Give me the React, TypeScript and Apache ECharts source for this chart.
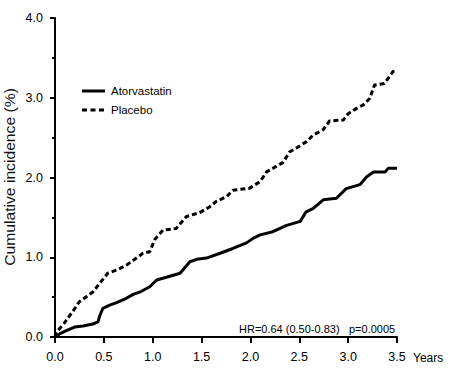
import React, { useEffect, useRef } from "react";
import * as echarts from "echarts";

const xTicks = [0, 0.5, 1, 1.5, 2, 2.5, 3, 3.5];
const yTicks = [0, 1, 2, 3, 4];

const atorvaTime = [0, 0.013, 0.047, 0.116, 0.2, 0.286, 0.388, 0.44, 0.457, 0.49, 0.56, 0.63, 0.73, 0.8, 0.88, 0.97, 1.04, 1.14, 1.28, 1.38, 1.45, 1.55, 1.69, 1.82, 1.96, 2.03, 2.1, 2.23, 2.37, 2.51, 2.57, 2.64, 2.745, 2.88, 2.98, 3.12, 3.19, 3.26, 3.38, 3.41, 3.5];
const atorvaValue = [0, 0.013, 0.038, 0.079, 0.125, 0.138, 0.163, 0.19, 0.263, 0.36, 0.4, 0.43, 0.485, 0.535, 0.57, 0.63, 0.715, 0.75, 0.8, 0.944, 0.974, 0.99, 1.05, 1.11, 1.18, 1.24, 1.28, 1.32, 1.4, 1.45, 1.57, 1.61, 1.72, 1.74, 1.86, 1.91, 2.01, 2.07, 2.07, 2.115, 2.115];

const placeboTime = [0, 0.013, 0.08, 0.18, 0.25, 0.32, 0.39, 0.457, 0.54, 0.63, 0.73, 0.83, 0.9, 0.97, 1.02, 1.105, 1.24, 1.345, 1.48, 1.58, 1.65, 1.755, 1.82, 1.99, 2.1, 2.165, 2.23, 2.335, 2.4, 2.47, 2.575, 2.64, 2.745, 2.81, 2.95, 3.0, 3.09, 3.155, 3.22, 3.27, 3.37, 3.42, 3.46, 3.5];
const placeboValue = [0, 0.06, 0.15, 0.317, 0.443, 0.505, 0.568, 0.673, 0.8, 0.84, 0.9, 0.987, 1.05, 1.07, 1.22, 1.34, 1.36, 1.51, 1.56, 1.63, 1.7, 1.76, 1.84, 1.865, 1.95, 2.07, 2.115, 2.19, 2.32, 2.37, 2.45, 2.53, 2.6, 2.71, 2.72, 2.8, 2.87, 2.91, 2.99, 3.16, 3.18, 3.26, 3.33, 3.33];

const seriesNames = ["Atorvastatin", "Placebo"];
const yAxisTitle = "Cumulative incidence (%)";
const xAxisTitle = "Years";
const annotationHR = "HR=0.64 (0.50-0.83)";
const annotationP = "p=0.0005";

const FONT = "'Liberation Sans', Arial, sans-serif";

export default function App() {
  const ref = useRef<HTMLDivElement>(null);
  useEffect(() => {
    if (!ref.current) return;
    const chart = echarts.init(ref.current, undefined, { renderer: "svg" });
    const zip = (t: number[], v: number[]) => t.map((x, i) => [x, v[i]]);
    chart.setOption({
      animation: false,
      backgroundColor: "#fff",
      grid: { left: 55, top: 18, width: 342, height: 319, containLabel: false },
      xAxis: {
        type: "value",
        min: 0,
        max: 3.5,
        interval: 0.5,
        offset: 3,
        axisLine: { show: true, lineStyle: { color: "#000", width: 2 } },
        axisTick: { show: true, length: 6, lineStyle: { color: "#000", width: 2 } },
        axisLabel: {
          margin: 10,
          color: "#000",
          fontSize: 12.5,
          fontFamily: FONT,
          formatter: (v: number) => v.toFixed(1),
          customValues: xTicks,
        },
        splitLine: { show: false },
      },
      yAxis: {
        type: "value",
        min: 0,
        max: 4,
        interval: 1,
        offset: 4,
        axisLine: { show: true, lineStyle: { color: "#000", width: 2 } },
        axisTick: { show: true, length: 5, lineStyle: { color: "#000", width: 2 } },
        minorTick: { show: true, splitNumber: 2, length: 3, lineStyle: { color: "#000", width: 2 } },
        axisLabel: {
          margin: 8,
          color: "#000",
          fontSize: 12.5,
          fontFamily: FONT,
          formatter: (v: number) => v.toFixed(1),
          customValues: yTicks,
        },
        splitLine: { show: false },
      },
      series: [
        {
          name: seriesNames[0],
          type: "line",
          showSymbol: false,
          symbol: "none",
          data: zip(atorvaTime, atorvaValue),
          lineStyle: { color: "#000", width: 3, type: "solid" },
        },
        {
          name: seriesNames[1],
          type: "line",
          showSymbol: false,
          symbol: "none",
          data: zip(placeboTime, placeboValue),
          lineStyle: { color: "#000", width: 3, type: [5, 3] },
        },
      ],
      graphic: [
        {
          type: "text",
          x: 10,
          y: 177,
          rotation: Math.PI / 2,
          scaleX: 1.12,
          style: {
            text: yAxisTitle,
            fill: "#111",
            font: `14px ${FONT}`,
            align: "center",
            verticalAlign: "middle",
          },
        },
        {
          type: "text",
          x: 413,
          y: 358,
          style: { text: xAxisTitle, fill: "#000", font: `12px ${FONT}`, align: "left", verticalAlign: "middle" },
        },
        {
          type: "line",
          shape: { x1: 82, y1: 91, x2: 105, y2: 91 },
          style: { stroke: "#000", lineWidth: 3 },
        },
        {
          type: "line",
          shape: { x1: 82, y1: 110, x2: 105, y2: 110 },
          style: { stroke: "#000", lineWidth: 3, lineDash: [5, 3.5] },
        },
        {
          type: "text",
          x: 111,
          y: 91,
          style: { text: seriesNames[0], fill: "#000", font: `11.5px ${FONT}`, verticalAlign: "middle" },
        },
        {
          type: "text",
          x: 111,
          y: 110,
          style: { text: seriesNames[1], fill: "#000", font: `11.5px ${FONT}`, verticalAlign: "middle" },
        },
        {
          type: "text",
          x: 239,
          y: 329,
          style: { text: annotationHR, fill: "#000", font: `11px ${FONT}`, verticalAlign: "middle" },
        },
        {
          type: "text",
          x: 349,
          y: 329,
          style: { text: annotationP, fill: "#000", font: `11px ${FONT}`, verticalAlign: "middle" },
        },
      ],
    });
    return () => chart.dispose();
  }, []);
  return <div ref={ref} style={{ width: 451, height: 378, position: "absolute", left: 0, top: 0 }} />;
}
